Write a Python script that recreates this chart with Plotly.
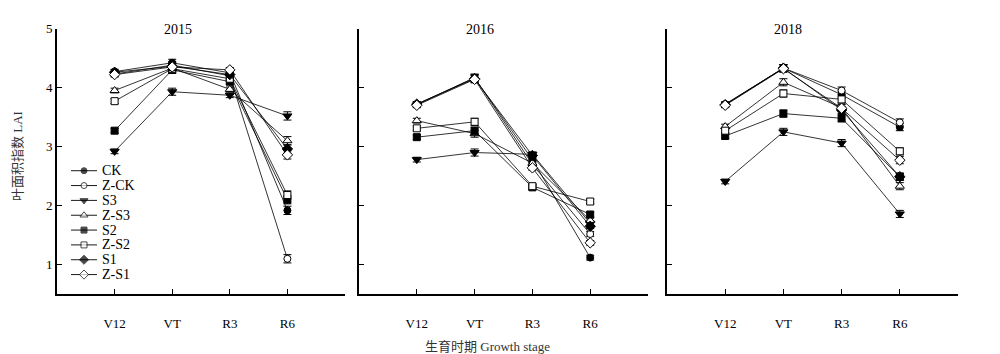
import plotly.graph_objects as go

stages = ["V12", "VT", "R3", "R6"]
years = ["2015", "2016", "2018"]
series = ["CK", "Z-CK", "S3", "Z-S3", "S2", "Z-S2", "S1", "Z-S1"]

lai_2015 = {
    "CK":   [4.27, 4.42, 4.25, 1.92],
    "Z-CK": [4.23, 4.38, 4.20, 1.10],
    "S3":   [2.92, 3.93, 3.87, 3.52],
    "Z-S3": [3.95, 4.33, 3.97, 3.10],
    "S2":   [3.27, 4.30, 4.10, 2.10],
    "Z-S2": [3.77, 4.32, 4.15, 2.18],
    "S1":   [4.26, 4.36, 4.22, 2.96],
    "Z-S1": [4.22, 4.35, 4.30, 2.86],
}
lai_2016 = {
    "CK":   [3.72, 4.16, 2.78, 1.12],
    "Z-CK": [3.71, 4.17, 2.70, 1.52],
    "S3":   [2.78, 2.90, 2.87, 1.70],
    "Z-S3": [3.44, 3.22, 2.72, 1.75],
    "S2":   [3.16, 3.27, 2.31, 1.85],
    "Z-S2": [3.31, 3.42, 2.33, 2.07],
    "S1":   [3.72, 4.15, 2.85, 1.65],
    "Z-S1": [3.70, 4.14, 2.64, 1.37],
}
lai_2018 = {
    "CK":   [3.72, 4.33, 3.88, 3.33],
    "Z-CK": [3.71, 4.33, 3.95, 3.41],
    "S3":   [2.41, 3.25, 3.06, 1.86],
    "Z-S3": [3.34, 4.09, 3.66, 2.33],
    "S2":   [3.18, 3.56, 3.48, 2.49],
    "Z-S2": [3.27, 3.90, 3.80, 2.92],
    "S1":   [3.71, 4.33, 3.62, 2.49],
    "Z-S1": [3.70, 4.32, 3.65, 2.77],
}
err_2015 = [0.04, 0.06, 0.04, 0.07]
err_2016 = [0.04, 0.06, 0.04, 0.04]
err_2018 = [0.04, 0.06, 0.06, 0.06]

data_by_year = [lai_2015, lai_2016, lai_2018]
err_by_year = [err_2015, err_2016, err_2018]

symbols = {
    "CK": ("circle", "black"), "Z-CK": ("circle", "white"),
    "S3": ("triangle-down", "black"), "Z-S3": ("triangle-up", "white"),
    "S2": ("square", "black"), "Z-S2": ("square", "white"),
    "S1": ("diamond", "black"), "Z-S1": ("diamond", "white"),
}
sizes = {"circle": 7, "triangle-down": 8, "triangle-up": 8, "square": 7, "diamond": 8}

W, H = 1000, 354
x_doms = [(57, 345), (359, 648), (667, 958)]
y_top, y_bot = 22, 293
SERIF = "Liberation Serif, Times New Roman, Noto Sans CJK SC, serif"

fig = go.Figure()
xpos = [i + 1 for i in range(len(stages))]

for k, (year, lai, err) in enumerate(zip(years, data_by_year, err_by_year)):
    ax = "" if k == 0 else str(k + 1)
    for name in series:
        sym, fill = symbols[name]
        fig.add_trace(go.Scatter(
            x=xpos, y=lai[name], mode="lines+markers", name=name,
            showlegend=False, xaxis="x" + ax, yaxis="y" + ax,
            line=dict(color="black", width=0.8),
            marker=dict(symbol=sym, size=sizes[sym], color=fill,
                        line=dict(color="black", width=1)),
            error_y=dict(type="data", array=err, color="black", thickness=1, width=4),
        ))

# custom legend drawn on a hidden helper axis (one row per series)
for i, name in enumerate(series):
    sym, fill = symbols[name]
    fig.add_trace(go.Scatter(
        x=[0, 0.5, 1], y=[i, i, i], mode="lines+markers", showlegend=False,
        xaxis="x4", yaxis="y4", hoverinfo="skip",
        line=dict(color="black", width=0.9),
        marker=dict(symbol=sym, size=[0, sizes[sym] - 1, 0], color=fill,
                    line=dict(color="black", width=1)),
    ))

layout = dict(
    width=W, height=H, margin=dict(l=0, r=0, t=0, b=0),
    plot_bgcolor="white", paper_bgcolor="white",
    font=dict(family=SERIF, color="black", size=13),
    showlegend=False,
)
annotations = []
for k, year in enumerate(years):
    ax = "" if k == 0 else str(k + 1)
    x0, x1 = x_doms[k]
    layout["xaxis" + ax] = dict(
        domain=[x0 / W, x1 / W], range=[0, 5], anchor="y" + ax,
        tickvals=[1, 2, 3, 4, 5], ticktext=stages + [""],
        ticks="inside", ticklen=5, tickwidth=1.2, tickcolor="black",
        showline=True, linecolor="black", linewidth=2, showgrid=False,
        zeroline=False, tickfont=dict(size=13, family=SERIF),
        ticklabelstandoff=16,
    )
    layout["yaxis" + ax] = dict(
        domain=[1 - y_bot / H, 1 - y_top / H], range=[0.5, 5], anchor="x" + ax,
        tickvals=[1, 2, 3, 4, 5], showticklabels=(k == 0),
        ticks="inside", ticklen=5, tickwidth=1.2, tickcolor="black",
        showline=True, linecolor="black", linewidth=2, showgrid=False,
        zeroline=False, tickfont=dict(size=13, family=SERIF),
    )
    annotations.append(dict(
        text=year, x=(x0 + 121) / W, y=1 - 23 / H, xref="paper", yref="paper",
        showarrow=False, font=dict(size=14, family=SERIF), xanchor="center", yanchor="middle",
    ))

leg_top, leg_bot = 167, 273
layout["xaxis4"] = dict(domain=[71 / W, 97 / W], range=[0, 1], anchor="y4",
                        visible=False, fixedrange=True)
layout["yaxis4"] = dict(domain=[1 - (leg_bot + 8) / H, 1 - (leg_top - 8) / H],
                        range=[len(series) - 1 + 0.53, -0.53], anchor="x4",
                        visible=False, fixedrange=True)
for i, name in enumerate(series):
    annotations.append(dict(
        text=name, x=100 / W, y=i, xref="paper", yref="y4", showarrow=False,
        font=dict(size=14, family=SERIF), xanchor="left", yanchor="middle",
    ))

annotations.append(dict(
    text="叶面积指数 LAI", x=18 / W, y=1 - 152 / H, xref="paper", yref="paper",
    textangle=-90, showarrow=False, font=dict(size=13, family=SERIF, color="#333"),
    xanchor="center", yanchor="middle",
))
annotations.append(dict(
    text="生育时期 Growth stage", x=487 / W, y=1 - 346 / H, xref="paper", yref="paper",
    showarrow=False, font=dict(size=13, family=SERIF, color="#333"),
    xanchor="center", yanchor="middle",
))
layout["annotations"] = annotations
fig.update_layout(**layout)
fig.write_html("out.html")
